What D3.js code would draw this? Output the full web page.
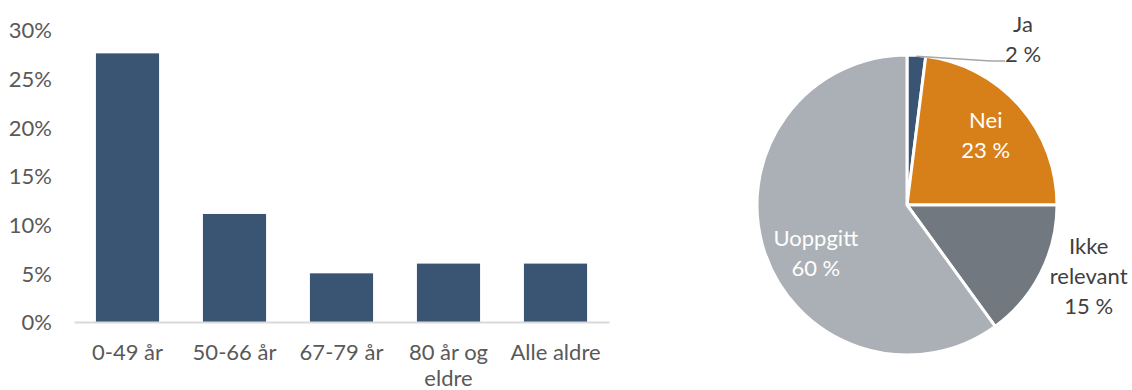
<!DOCTYPE html>
<html>
<head>
<meta charset="utf-8">
<script src="https://cdn.jsdelivr.net/npm/d3@7/dist/d3.min.js"></script>
<style>
  html, body { margin: 0; padding: 0; background: #fff; }
  svg { display: block; }
  text { font-family: Lato, "Open Sans", "Noto Sans", sans-serif; }
</style>
</head>
<body>
<svg id="chart" width="1132" height="390"></svg>
<script>
// Bar chart: share by age group
const ageGroups = ["0-49 år", "50-66 år", "67-79 år", "80 år og eldre", "Alle aldre"];
const ageShares = [0.276, 0.111, 0.050, 0.060, 0.060];
const yTickValues = [0, 0.05, 0.10, 0.15, 0.20, 0.25, 0.30];

// Pie chart: answer distribution
const answerLabels = ["Ja", "Nei", "Ikke relevant", "Uoppgitt"];
const answerShares = [2, 23, 15, 60];
const answerColors = ["#3a5574", "#d77f18", "#717880", "#aab0b5"];

const svg = d3.select("#chart");
const FONT = 22;
const textGray = "#595959";

// ---------- bar chart ----------
const x = d3.scaleBand()
  .domain(ageGroups)
  .range([74, 609])
  .paddingInner(0.41)
  .paddingOuter(0.205);

const y = d3.scaleLinear().domain([0, 0.30]).range([322, 30]);

const barG = svg.append("g");

barG.selectAll("rect.bar")
  .data(ageShares)
  .join("rect")
  .attr("class", "bar")
  .attr("x", (d, i) => x(ageGroups[i]))
  .attr("width", x.bandwidth())
  .attr("y", d => y(d))
  .attr("height", d => y(0) - y(d))
  .attr("fill", "#3a5574");

// y axis: labels only
const yAxis = barG.append("g")
  .attr("transform", "translate(52,0)")
  .call(d3.axisLeft(y).tickValues(yTickValues).tickFormat(d3.format(".0%")).tickSize(0).tickPadding(0));
yAxis.select(".domain").remove();
yAxis.selectAll("text")
  .attr("font-size", FONT)
  .attr("font-family", null)
  .attr("fill", textGray)
  .attr("dy", "0.35em");

// x axis: baseline and wrapped category labels
const xAxis = barG.append("g")
  .attr("transform", `translate(0,${y(0)})`)
  .call(d3.axisBottom(x).tickSize(0).tickSizeOuter(0).tickPadding(0));
xAxis.select(".domain").attr("stroke", "#d9d9d9").attr("stroke-width", 2);
xAxis.selectAll(".tick text").remove();
xAxis.selectAll(".tick").each(function (d) {
  const lines = d === "80 år og eldre" ? ["80 år og", "eldre"] : [d];
  const t = d3.select(this).append("text")
    .attr("text-anchor", "middle")
    .attr("font-size", FONT)
    .attr("fill", textGray);
  lines.forEach((ln, k) => {
    t.append("tspan").attr("x", 0).attr("y", 30 + k * 26).attr("dy", "0.35em").text(ln);
  });
});

// ---------- pie chart ----------
const cx = 907, cy = 205, R = 150;
const pieG = svg.append("g").attr("transform", `translate(${cx},${cy})`);

const pie = d3.pie().sort(null).value(d => d)(answerShares);
const arc = d3.arc().innerRadius(0).outerRadius(R);

pieG.selectAll("path")
  .data(pie)
  .join("path")
  .attr("d", arc)
  .attr("fill", (d, i) => answerColors[i])
  .attr("stroke", "#fff")
  .attr("stroke-width", 3)
  .attr("stroke-linejoin", "miter");

function polar(angle, r) {
  return [r * Math.sin(angle), -r * Math.cos(angle)];
}
function midAngle(d) { return (d.startAngle + d.endAngle) / 2; }

function drawLabel(lines, pos, color) {
  const t = pieG.append("text")
    .attr("text-anchor", "middle")
    .attr("font-size", FONT)
    .attr("fill", color);
  const n = lines.length, lh = 30;
  lines.forEach((ln, k) => {
    t.append("tspan")
      .attr("x", pos[0])
      .attr("y", pos[1] + (k - (n - 1) / 2) * lh)
      .attr("dy", "0.35em")
      .text(ln);
  });
}

const pctText = v => `${v} %`;

// Nei: inside
{
  const d = pie[1];
  const p = polar(midAngle(d), 105);
  drawLabel([answerLabels[1], pctText(answerShares[1])], [p[0], p[1]], "#ffffff");
}
// Uoppgitt: inside, nudged toward the lower left
{
  const d = pie[3];
  const p = polar(midAngle(d) - 0.17, 103);
  drawLabel([answerLabels[3], pctText(answerShares[3])], [p[0], p[1]], "#ffffff");
}
// Ikke relevant: outside, right
{
  const d = pie[2];
  const p = polar(midAngle(d) - 0.1, 196);
  drawLabel(["Ikke", "relevant", pctText(answerShares[2])], [p[0] - 1, p[1]], "#404040");
}
// Ja: outside, with leader line
{
  const d = pie[0];
  const a = midAngle(d);
  const start = polar(a, R - 1);
  const labelPos = [116, -166];
  const elbow = [labelPos[0] - 32, labelPos[1] + 22];
  const end = [labelPos[0] - 18, labelPos[1] + 22];
  pieG.append("path")
    .attr("d", d3.line()([start, elbow, end]))
    .attr("fill", "none")
    .attr("stroke", "#a6a6a6")
    .attr("stroke-width", 1.5);
  drawLabel([answerLabels[0], pctText(answerShares[0])], labelPos, "#404040");
}
</script>
</body>
</html>
